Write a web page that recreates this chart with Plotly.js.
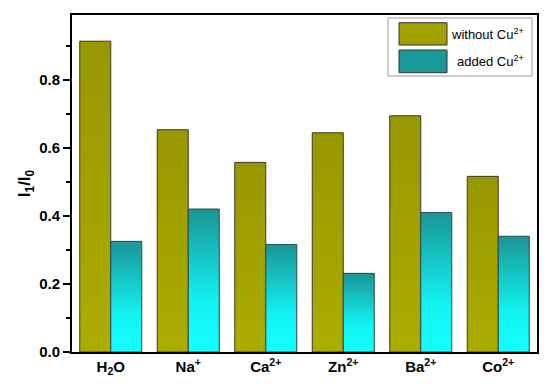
<!DOCTYPE html>
<html>
<head>
<meta charset="utf-8">
<script src="https://cdn.plot.ly/plotly-3.0.1.min.js"></script>
<style>html,body{margin:0;padding:0;background:#fff;}#chart{width:553px;height:389px;}</style>
</head>
<body>
<div id="chart"></div>
<script>
const categories = ["H<sub>2</sub>O", "Na<sup>+</sup>", "Ca<sup>2+</sup>", "Zn<sup>2+</sup>", "Ba<sup>2+</sup>", "Co<sup>2+</sup>"];
const withoutCu = [0.913, 0.653, 0.557, 0.644, 0.694, 0.516];
const addedCu = [0.325, 0.420, 0.316, 0.231, 0.410, 0.340];
const seriesNames = ["without Cu<sup>2+</sup>", "added Cu<sup>2+</sup>"];
const yTickVals = [0, 0.2, 0.4, 0.6, 0.8];
const yTickText = ["0.0", "0.2", "0.4", "0.6", "0.8"];

const F = "Liberation Sans, Arial, sans-serif";

const traces = [
  {type: "bar", name: seriesNames[0], x: categories, y: withoutCu,
   marker: {color: "#a0a000", line: {color: "#3a3a2a", width: 1}}, showlegend: false, hoverinfo: "none"},
  {type: "bar", name: seriesNames[1], x: categories, y: addedCu,
   marker: {color: "#19a0a0", line: {color: "#2a4a4a", width: 1}}, showlegend: false, hoverinfo: "none"}
];

const px = v => (v - 72) / 465;
const py = v => (352 - v) / 337;

const layout = {
  width: 553, height: 389,
  margin: {l: 72, r: 16, t: 15, b: 37},
  paper_bgcolor: "#fff", plot_bgcolor: "#fff",
  barmode: "group", bargap: 0.2, bargroupgap: 0,
  font: {family: F, color: "#000"},
  xaxis: {
    type: "category", range: [-0.5, 5.5],
    showline: true, linecolor: "#000", linewidth: 2, mirror: true,
    ticks: "", showgrid: false, zeroline: false,
    tickfont: {family: F, size: 15, color: "#000", weight: "bold"}
  },
  yaxis: {
    range: [0, 0.99], tickvals: yTickVals, ticktext: yTickText,
    showline: true, linecolor: "#000", linewidth: 2, mirror: true,
    ticks: "outside", ticklen: 7, tickwidth: 2, tickcolor: "#000",
    minor: {dtick: 0.1, ticks: "outside", ticklen: 4, tickwidth: 2, tickcolor: "#000", showgrid: false},
    showgrid: false, zeroline: false,
    tickfont: {family: F, size: 15, color: "#000", weight: "bold"},
    title: {text: "I<sub>1</sub>/I<sub>0</sub>", font: {family: F, size: 17, color: "#000", weight: "bold"}, standoff: 4}
  },
  shapes: [
    {type: "rect", xref: "paper", yref: "paper", x0: px(388), x1: px(532), y0: py(76), y1: py(18),
     line: {color: "#9a9a9a", width: 1}, fillcolor: "#fff"},
    {type: "rect", xref: "paper", yref: "paper", x0: px(399), x1: px(447), y0: py(45), y1: py(22.7),
     line: {color: "#333", width: 1}, fillcolor: "#a0a000"},
    {type: "rect", xref: "paper", yref: "paper", x0: px(399), x1: px(447), y0: py(72.7), y1: py(50),
     line: {color: "#333", width: 1}, fillcolor: "#1a9a9a"}
  ],
  annotations: [
    {xref: "paper", yref: "paper", x: px(449), y: py(34), xanchor: "left", yanchor: "middle",
     text: seriesNames[0], showarrow: false, font: {family: F, size: 13, color: "#000"}},
    {xref: "paper", yref: "paper", x: px(455), y: py(61), xanchor: "left", yanchor: "middle",
     text: seriesNames[1], showarrow: false, font: {family: F, size: 13, color: "#000"}}
  ]
};

Plotly.newPlot("chart", traces, layout, {staticPlot: true, displayModeBar: false}).then(function (gd) {
  const svg = gd.querySelector("svg.main-svg");
  let defs = svg.querySelector("defs");
  const NS = "http://www.w3.org/2000/svg";
  if (!defs) { defs = document.createElementNS(NS, "defs"); svg.insertBefore(defs, svg.firstChild); }
  function grad(id, stops) {
    const g = document.createElementNS(NS, "linearGradient");
    g.setAttribute("id", id);
    g.setAttribute("x1", "0"); g.setAttribute("y1", "0"); g.setAttribute("x2", "0"); g.setAttribute("y2", "1");
    stops.forEach(function (s) {
      const st = document.createElementNS(NS, "stop");
      st.setAttribute("offset", s[0]); st.setAttribute("stop-color", s[1]);
      g.appendChild(st);
    });
    defs.appendChild(g);
  }
  grad("gOlive", [["0", "#979700"], ["1", "#acac00"]]);
  grad("gCyan", [["0", "#1a9595"], ["0.65", "#12f2f2"], ["1", "#14ffff"]]);
  const traceGroups = gd.querySelectorAll("g.trace.bars");
  const ids = ["gOlive", "gCyan"];
  traceGroups.forEach(function (tg, i) {
    tg.querySelectorAll("path").forEach(function (p) { p.style.fill = "url(#" + ids[i] + ")"; });
  });
});
</script>
</body>
</html>
